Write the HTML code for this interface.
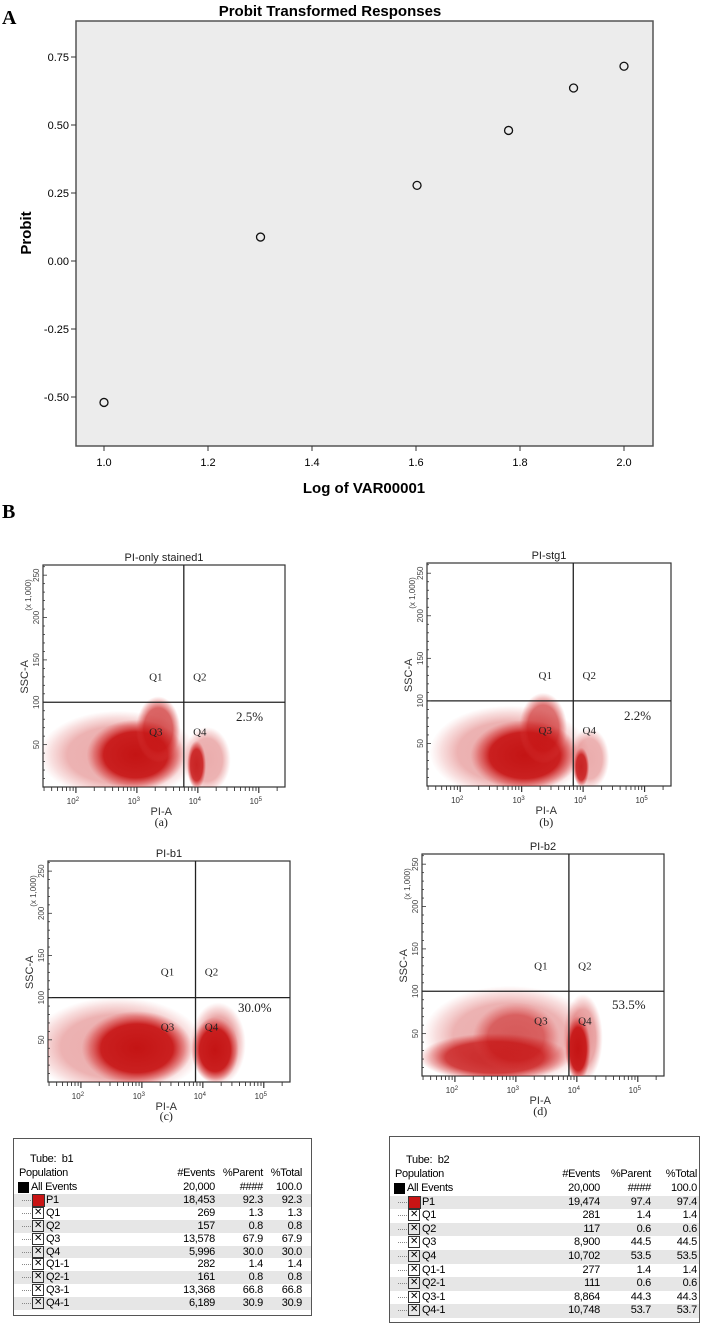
<!DOCTYPE html>
<html><head><meta charset="utf-8"><style>
body{margin:0;background:#fff;width:701px;height:1323px;overflow:hidden;position:relative;font-family:"Liberation Sans",sans-serif}
svg{position:absolute;left:0;top:0}
.tbl{position:absolute;border:1px solid #555;background:#fff;font-size:11px;font-family:"Liberation Sans",sans-serif;letter-spacing:-0.3px}
.r{position:absolute;left:0;right:0;height:13px;line-height:13px}
.r span{position:absolute}
</style></head><body>
<svg id="svg" width="701" height="1323"></svg>
<script>
// ---- Chart A data ----
const xTicks=[1.0,1.2,1.4,1.6,1.8,2.0];
const yTicks=[0.75,0.50,0.25,0.00,-0.25,-0.50];
const logDose=[1.0,1.301,1.602,1.778,1.903,2.0];
const probit=[-0.52,0.088,0.278,0.48,0.636,0.716];
// ---- Flow plots data: clusters [logX, ssc, spreadX(decades), spreadY, opacity]
const plotTitles=["PI-only stained1","PI-stg1","PI-b1","PI-b2"];
const plotCaptions=["(a)","(b)","(c)","(d)"];
const plotPercents=["2.5%","2.2%","30.0%","53.5%"];
const gateX=[3.77,3.84,3.88,3.87];
const gateY=[100,100,100,100];
const clustersA=[[2.7,38,1.0,40,0.35],[4.15,32,0.3,30,0.35],[2.98,38,0.62,32,1],[3.35,68,0.28,30,0.7],[3.98,26,0.12,22,0.9]];
const clustersB=[[2.8,40,1.0,42,0.35],[4.1,32,0.25,28,0.35],[3.05,36,0.68,32,1],[3.35,68,0.3,32,0.65],[3.97,22,0.1,18,0.9]];
const clustersC=[[2.6,42,1.1,45,0.35],[4.25,45,0.35,38,0.4],[2.92,40,0.7,34,1],[4.2,38,0.3,30,1]];
const clustersD=[[2.9,48,1.1,45,0.35],[4.1,45,0.25,40,0.4],[2.65,22,0.95,22,0.85],[3.0,45,0.55,32,0.55],[4.02,32,0.16,30,1]];
// ---- Table data
const popNames=["All Events","P1","Q1","Q2","Q3","Q4","Q1-1","Q2-1","Q3-1","Q4-1"];
const b1Events=["20,000","18,453","269","157","13,578","5,996","282","161","13,368","6,189"];
const b1Parent=["####","92.3","1.3","0.8","67.9","30.0","1.4","0.8","66.8","30.9"];
const b1Total=["100.0","92.3","1.3","0.8","67.9","30.0","1.4","0.8","66.8","30.9"];
const b2Events=["20,000","19,474","281","117","8,900","10,702","277","111","8,864","10,748"];
const b2Parent=["####","97.4","1.4","0.6","44.5","53.5","1.4","0.6","44.3","53.7"];
const b2Total=["100.0","97.4","1.4","0.6","44.5","53.5","1.4","0.6","44.3","53.7"];

const NS="http://www.w3.org/2000/svg";
const svg=document.getElementById('svg');
function mk(tag,attrs,parent,txt){const e=document.createElementNS(NS,tag);for(const k in attrs)e.setAttribute(k,attrs[k]);if(txt!==undefined)e.textContent=txt;(parent||svg).appendChild(e);return e;}

const defs=mk('defs',{});
const rg=mk('radialGradient',{id:'blob'},defs);
mk('stop',{offset:'0%','stop-color':'#c41414','stop-opacity':'1'},rg);
mk('stop',{offset:'65%','stop-color':'#c81818','stop-opacity':'0.95'},rg);
mk('stop',{offset:'85%','stop-color':'#d43030','stop-opacity':'0.45'},rg);
mk('stop',{offset:'100%','stop-color':'#e05050','stop-opacity':'0'},rg);

// ---- Chart A ----
const A={x0:76,y0:21,x1:653,y1:446};
const ax=v=>104+(v-1)*520;
const ay=v=>261-v*272;
let t=mk('text',{x:2,y:24,'font-family':'Liberation Serif','font-weight':'bold','font-size':20},svg,'A');

t=mk('text',{x:330,y:16,'text-anchor':'middle','font-weight':'bold','font-size':15},svg,'Probit Transformed Responses');

let r=mk('rect',{x:A.x0,y:A.y0,width:A.x1-A.x0,height:A.y1-A.y0,fill:'#ececec',stroke:'#555','stroke-width':1.5});

yTicks.forEach(v=>{const y=ay(v);mk('line',{x1:A.x0-5,x2:A.x0,y1:y,y2:y,stroke:'#333'});
 const tt=mk('text',{x:A.x0-7,y:y+4,'text-anchor':'end','font-size':11},svg,v.toFixed(2));
 });
xTicks.forEach(v=>{const x=ax(v);mk('line',{x1:x,x2:x,y1:A.y1,y2:A.y1+5,stroke:'#333'});
 const tt=mk('text',{x:x,y:466,'text-anchor':'middle','font-size':11},svg,v.toFixed(1));
 });
t=mk('text',{x:364,y:493,'text-anchor':'middle','font-weight':'bold','font-size':15},svg,'Log of VAR00001');

t=mk('text',{x:0,y:0,'text-anchor':'middle','font-weight':'bold','font-size':15,transform:'translate(31,233) rotate(-90)'},svg,'Probit');

logDose.forEach((v,i)=>{const c=mk('circle',{cx:ax(v),cy:ay(probit[i]),r:4,fill:'none',stroke:'#111','stroke-width':1.3});
 });

t=mk('text',{x:2,y:518,'font-family':'Liberation Serif','font-weight':'bold','font-size':20},svg,'B');


// ---- Flow plots ----
const boxes=[{x0:43,y0:565,x1:285,y1:787,cap:826},{x0:427,y0:563,x1:671,y1:786,cap:826},{x0:48,y0:861,x1:290,y1:1082,cap:1120},{x0:422,y0:854,x1:664,y1:1076,cap:1115}];
const allClusters=[clustersA,clustersB,clustersC,clustersD];
const pctPos=[[236,721],[624,720],[238,1012],[612,1009]];
boxes.forEach((b,i)=>{
 const g=mk('g',{});
 
 
 const lx0=1.46,lx1=5.43,ymax=262;
 const fx=v=>b.x0+(v-lx0)/(lx1-lx0)*(b.x1-b.x0);
 const fy=v=>b.y1-v/ymax*(b.y1-b.y0);
 const dx=(b.x1-b.x0)/(lx1-lx0), dy=(b.y1-b.y0)/ymax;
 mk('rect',{x:b.x0,y:b.y0,width:b.x1-b.x0,height:b.y1-b.y0,fill:'#fff',stroke:'#333','stroke-width':1.2},g);
 const clip=mk('clipPath',{id:'cp'+i},defs);
 mk('rect',{x:b.x0,y:b.y0,width:b.x1-b.x0,height:b.y1-b.y0},clip);
 const cg=mk('g',{'clip-path':'url(#cp'+i+')'},g);
 allClusters[i].forEach(c=>{
  const e=mk('ellipse',{cx:fx(c[0]),cy:fy(c[1]),rx:c[2]*dx*1.3,ry:c[3]*dy*1.3,fill:'url(#blob)',opacity:c[4]},cg);
  
  
 });
 const gx=fx(gateX[i]),gy=fy(gateY[i]);
 mk('line',{x1:gx,x2:gx,y1:b.y0,y2:b.y1,stroke:'#222','stroke-width':1.3},g);
 mk('line',{x1:b.x0,x2:b.x1,y1:gy,y2:gy,stroke:'#222','stroke-width':1.3},g);
 for(let v=0;v<=260;v+=10){const y=fy(v);mk('line',{x1:b.x0,x2:b.x0+(v%50?2:4),y1:y,y2:y,stroke:'#333','stroke-width':0.8},g);}
 [50,100,150,200,250].forEach(v=>{mk('text',{x:0,y:0,'font-size':8,fill:'#444','text-anchor':'middle',transform:`translate(${b.x0-4},${fy(v)}) rotate(-90)`},g,String(v));});
 mk('text',{x:0,y:0,'font-size':8,fill:'#444','text-anchor':'middle',transform:`translate(${b.x0-12},${b.y0+30}) rotate(-90)`},g,'(x 1,000)');
 mk('text',{x:0,y:0,'font-size':11,fill:'#333','text-anchor':'middle',transform:`translate(${b.x0-15},${fy(130)}) rotate(-90)`},g,'SSC-A');
 for(let d=1;d<=5;d++){for(let m=1;m<10;m++){const lv=d+Math.log10(m);if(lv<lx0||lv>lx1)continue;const x=fx(lv);
  mk('line',{x1:x,x2:x,y1:b.y1,y2:b.y1+(m==1?6:4),stroke:'#333','stroke-width':m==1?1.2:0.9},g);}}
 [2,3,4,5].forEach(d=>{const tt=mk('text',{x:fx(d)-3,y:b.y1+17,'font-size':8,fill:'#333','text-anchor':'middle'},g,'10');
  mk('tspan',{dy:-3,'font-size':6},tt,String(d));});
 mk('text',{x:fx(3.4),y:b.y1+28,'font-size':11,fill:'#333','text-anchor':'middle'},g,'PI-A');
 mk('text',{x:(b.x0+b.x1)/2,y:b.y0-4,'font-size':11,fill:'#222','text-anchor':'middle'},g,plotTitles[i]);
 mk('text',{x:fx(3.4),y:b.cap,'font-family':'Liberation Serif','font-size':12,fill:'#222','text-anchor':'middle'},g,plotCaptions[i]);
 const qxL=gx-28,qxR=gx+16;
 [['Q1',qxL,gy-22],['Q2',qxR,gy-22],['Q3',qxL,gy+33],['Q4',qxR,gy+33]].forEach(q=>{
  mk('text',{x:q[1],y:q[2],'font-family':'Liberation Serif','font-size':11,fill:'#222','text-anchor':'middle'},g,q[0]);});
 const p=mk('text',{x:pctPos[i][0],y:pctPos[i][1],'font-family':'Liberation Serif','font-size':13,fill:'#222'},g,plotPercents[i]);
 
 
});

// ---- Tables ----
function table(L,T,W,H,tube,ev,par,tot,cE,cP,cT,rowY,rowH,name){
 const d=document.createElement('div');d.className='tbl';
 
 
 d.style.cssText=`left:${L}px;top:${T}px;width:${W}px;height:${H}px`;
 let h=`<div class="r" style="top:${rowY-T-34}px"><span style="left:16px">Tube:&nbsp; ${tube}</span></div>`;
 h+=`<div class="r" style="top:${rowY-T-20}px"><span style="left:5px">Population</span><span style="right:${L+W-cE}px">#Events</span><span style="right:${L+W-cP}px">%Parent</span><span style="right:${L+W-cT}px">%Total</span></div>`;
 popNames.forEach((n,i)=>{
  const y=rowY-T-6+i*rowH;
  const bg=i%2?'#e6e6e6':'#fff';
  let icon;
  if(i==0)icon=`<span style="left:4px;top:1px;width:11px;height:11px;background:#000"></span>`;
  else if(i==1)icon=`<span style="left:18px;top:0px;width:11px;height:11px;background:#c81414;border:1px solid #333"></span>`;
  else icon=`<span style="left:18px;top:0px;width:10px;height:10px;border:1px solid #333;font-size:10px;line-height:10px;text-align:center">&#x2715;</span>`;
  h+=`<div class="r" style="top:${y}px;height:${rowH}px;background:${bg}">${icon}${i?'<span style="left:8px;top:6px;width:9px;border-top:1px dotted #888"></span>':''}<span style="left:${i?32:17}px">${n}</span><span style="right:${L+W-cE}px">${ev[i]}</span><span style="right:${L+W-cP}px">${par[i]}</span><span style="right:${L+W-cT}px">${tot[i]}</span></div>`;
 });
 d.innerHTML=h;document.body.appendChild(d);
}
table(13,1138,297,176,'b1',b1Events,b1Parent,b1Total,214,262,301,1186,12.9,'table-b1');
table(389,1136,309,185,'b2',b2Events,b2Parent,b2Total,599,650,696,1187,13.6,'table-b2');
</script>
</body></html>
